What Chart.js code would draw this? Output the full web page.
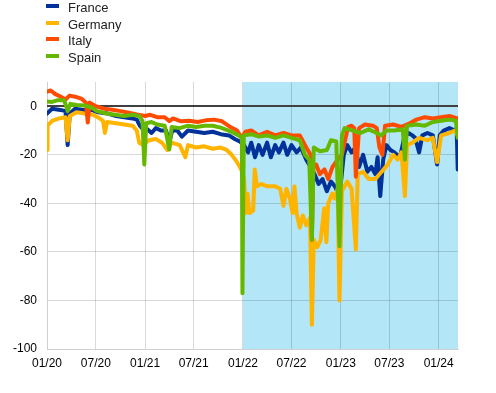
<!DOCTYPE html>
<html>
<head>
<meta charset="utf-8">
<script src="https://cdn.jsdelivr.net/npm/chart.js@4/dist/chart.umd.min.js"></script>
<style>
  html, body { margin: 0; padding: 0; background: #fff; }
  #wrap { position: relative; width: 496px; height: 393px; }
  #legend { position: absolute; left: 46px; top: 0; font: 13px "Liberation Sans", Arial, sans-serif; color: #222; }
  .item { position: relative; height: 16.7px; }
  .mark { position: absolute; left: 0; top: 4px; width: 13px; height: 4px; }
  .label { position: absolute; left: 22px; top: -1px; line-height: 17px; white-space: nowrap; }
</style>
</head>
<body>
<div id="wrap">
  <canvas id="chart" width="496" height="393"></canvas>
  <div id="legend"></div>
</div>
<script>
const seriesNames = ['France', 'Germany', 'Italy', 'Spain']

const franceDates = ['2020-01-01','2020-01-20','2020-02-20','2020-03-10','2020-03-18','2020-03-26','2020-04-15','2020-05-15','2020-06-15','2020-07-10','2020-08-15','2020-09-15','2020-10-15','2020-11-15','2020-12-01','2020-12-12','2020-12-28','2021-01-05','2021-01-25','2021-02-10','2021-03-01','2021-03-20','2021-04-01','2021-04-12','2021-05-01','2021-05-18','2021-06-10','2021-07-10','2021-08-10','2021-09-10','2021-10-10','2021-11-10','2021-12-01','2021-12-20','2022-01-05','2022-01-20','2022-02-01','2022-02-15','2022-03-01','2022-03-15','2022-04-01','2022-04-15','2022-05-01','2022-05-15','2022-06-01','2022-06-15','2022-07-01','2022-07-20','2022-08-05','2022-08-25','2022-09-10','2022-09-25','2022-10-10','2022-10-25','2022-11-10','2022-11-25','2022-12-10','2022-12-27','2023-01-12','2023-01-25','2023-02-10','2023-02-25','2023-03-10','2023-03-25','2023-04-10','2023-04-25','2023-05-10','2023-05-18','2023-05-28','2023-06-08','2023-06-20','2023-07-05','2023-07-20','2023-08-10','2023-08-25','2023-09-10','2023-09-25','2023-10-05','2023-10-20','2023-11-01','2023-11-20','2023-12-10','2023-12-26','2024-01-05','2024-01-20','2024-02-10','2024-03-01','2024-03-08','2024-03-12']
const franceValues = [-3,-1,-1.5,-2,-16,-3,-1,-1.5,-1.5,-2.5,-3,-4,-4.5,-5,-5.5,-8,-10,-9,-11,-9,-10,-10,-15,-10,-10,-12.5,-10,-10.5,-11,-10.5,-11.5,-12,-13.5,-14.5,-16,-19,-15,-21,-16,-20,-15,-21,-16,-19,-15,-20,-16,-19,-17,-22,-25,-28,-32,-30,-35,-31,-33,-37,-20,-16,-19,-17,-25,-20,-27,-25,-28,-21,-37,-22,-16,-18,-19,-21,-13,-11,-12,-13,-19,-12,-11,-12,-24,-12,-10,-9,-10,-9,-26]

const germanyDates = ['2020-01-01','2020-01-03','2020-01-20','2020-02-15','2020-03-10','2020-03-18','2020-03-26','2020-04-20','2020-05-20','2020-06-20','2020-07-10','2020-07-28','2020-08-04','2020-08-12','2020-09-15','2020-10-15','2020-11-15','2020-12-01','2020-12-10','2020-12-25','2021-01-15','2021-02-10','2021-03-05','2021-03-25','2021-04-10','2021-05-10','2021-05-31','2021-06-10','2021-07-10','2021-08-10','2021-09-10','2021-10-10','2021-11-01','2021-11-20','2021-12-10','2021-12-25','2022-01-05','2022-01-12','2022-01-18','2022-01-25','2022-02-08','2022-02-14','2022-02-22','2022-03-10','2022-04-01','2022-05-01','2022-05-20','2022-06-01','2022-06-12','2022-06-25','2022-07-05','2022-07-12','2022-07-20','2022-08-01','2022-08-12','2022-08-25','2022-09-08','2022-09-15','2022-09-22','2022-10-05','2022-10-18','2022-10-31','2022-11-08','2022-11-15','2022-11-30','2022-12-10','2022-12-20','2022-12-27','2023-01-05','2023-01-25','2023-02-10','2023-02-26','2023-03-05','2023-03-25','2023-04-15','2023-05-10','2023-05-25','2023-06-10','2023-06-25','2023-07-15','2023-08-01','2023-08-15','2023-08-28','2023-09-05','2023-09-25','2023-10-20','2023-11-20','2023-12-10','2023-12-26','2024-01-10','2024-02-10','2024-03-01','2024-03-12']
const germanyValues = [-18,-8,-6,-5,-4.5,-14,-4,-2.5,-3,-3.5,-4.6,-6,-11,-6.5,-7,-7.5,-8,-10,-15,-16,-14,-13.5,-15,-18,-15,-16,-21,-16,-17,-16.5,-17.5,-17,-18,-20,-23,-26,-30,-44,-36,-44,-43,-26,-33,-32,-33,-33,-34,-41,-34,-38,-44,-33,-44,-50,-45,-49,-46,-90,-55,-58,-55,-42,-56,-40,-36,-38,-34,-80,-35,-31,-34,-59,-28,-27,-30,-30,-28,-26,-24,-20,-22,-19,-37,-16,-15,-13,-14,-13,-23,-12,-11,-10,-12]

const italyDates = ['2020-01-01','2020-01-15','2020-02-01','2020-02-20','2020-03-10','2020-03-25','2020-04-20','2020-05-10','2020-05-25','2020-06-01','2020-06-08','2020-07-01','2020-08-01','2020-09-01','2020-10-01','2020-11-01','2020-12-01','2021-01-01','2021-01-20','2021-02-15','2021-03-15','2021-04-01','2021-04-15','2021-05-15','2021-06-15','2021-07-15','2021-08-15','2021-09-15','2021-10-15','2021-11-10','2021-12-10','2021-12-27','2022-01-10','2022-02-01','2022-03-01','2022-04-01','2022-05-01','2022-06-01','2022-07-01','2022-08-01','2022-08-25','2022-09-10','2022-09-15','2022-09-20','2022-10-01','2022-10-15','2022-11-01','2022-11-15','2022-12-01','2022-12-20','2023-01-05','2023-01-15','2023-01-28','2023-02-10','2023-02-20','2023-02-26','2023-03-10','2023-04-01','2023-05-01','2023-05-15','2023-05-25','2023-06-05','2023-06-15','2023-07-15','2023-08-15','2023-09-15','2023-10-10','2023-11-10','2023-12-10','2024-01-10','2024-02-10','2024-03-12']
const italyValues = [6,6.5,5,4,2.8,4.4,3.8,3,1.5,-6.7,1.5,0,-1,-1.4,-2,-2.7,-3.4,-4,-3.5,-4.5,-4.5,-6.1,-5,-6.2,-6,-6.5,-5.8,-5.5,-6.2,-8.2,-10,-13,-10.5,-10,-12,-10.5,-12,-11,-12,-12,-17,-20,-55,-25,-24,-28,-26,-30,-25,-22,-20,-15,-8.5,-8,-9,-29,-9,-7.5,-8,-9,-17,-20,-8,-7.5,-8.5,-7,-5.5,-4.5,-5,-4.5,-4,-5]

const spainDates = ['2020-01-01','2020-01-20','2020-02-10','2020-03-05','2020-03-18','2020-03-28','2020-04-20','2020-05-20','2020-06-15','2020-07-05','2020-08-10','2020-09-10','2020-10-15','2020-11-15','2020-12-10','2020-12-22','2020-12-29','2021-01-05','2021-01-25','2021-02-15','2021-03-15','2021-04-01','2021-04-10','2021-05-10','2021-06-10','2021-07-10','2021-08-10','2021-09-10','2021-10-10','2021-11-15','2021-12-15','2021-12-28','2021-12-30','2022-01-04','2022-02-01','2022-03-01','2022-04-01','2022-05-01','2022-06-01','2022-07-01','2022-08-01','2022-08-20','2022-09-05','2022-09-15','2022-09-22','2022-10-15','2022-11-10','2022-11-25','2022-12-15','2022-12-27','2023-01-05','2023-01-15','2023-02-15','2023-03-15','2023-04-15','2023-05-15','2023-06-01','2023-06-20','2023-07-20','2023-08-20','2023-08-28','2023-09-05','2023-10-10','2023-11-10','2023-12-10','2024-01-10','2024-02-10','2024-03-05','2024-03-12']
const spainValues = [2,1.8,2.5,2.5,-2,1,0.5,0.3,-0.5,-2,-3,-3.5,-4,-3.5,-4,-6,-24,-7,-6.5,-7.5,-8,-17.8,-8.5,-9,-8,-8.5,-8,-8,-8.8,-10.3,-12,-13,-77,-12,-11.5,-12.5,-12,-13,-12,-13,-14,-20,-22,-55,-17,-18.5,-18,-14,-14.5,-57.6,-12,-9,-10,-11,-9.5,-11,-12,-10,-10,-9.5,-22,-8,-7.5,-8,-6.5,-6,-5.5,-6,-13]

const xTickDates = ['2020-01-01','2020-07-01','2021-01-01','2021-07-01','2022-01-01','2022-07-01','2023-01-01','2023-07-01','2024-01-01']
const xTickLabels = ['01/20','07/20','01/21','07/21','01/22','07/22','01/23','07/23','01/24']
const yTicks = [0, -20, -40, -60, -80, -100]
const xStart = '2020-01-01'
const xEnd = '2024-03-13'
const shadeStart = '2022-01-01'

const colors = ['#003299', '#ffb400', '#ff4b00', '#65b800']

const t = s => Date.parse(s + 'T00:00:00Z')
const toPoints = (dates, values) => dates.map((d, i) => ({ x: t(d), y: values[i] }))

const allDates = [franceDates, germanyDates, italyDates, spainDates]
const allValues = [franceValues, germanyValues, italyValues, spainValues]

// legend (html)
const legendEl = document.getElementById('legend')
seriesNames.forEach((name, i) => {
    const item = document.createElement('div')
    item.className = 'item'
    item.innerHTML = '<div class="mark" style="background:' + colors[i] + '"></div><div class="label">' + name + '</div>'
    legendEl.appendChild(item)
})

const backdrop = {
    id: 'backdrop',
    beforeDraw(chart) {
        const { ctx, chartArea, scales } = chart
        const x0 = scales.x.getPixelForValue(t(shadeStart))
        ctx.save()
        ctx.fillStyle = '#b3e6f7'
        ctx.fillRect(x0, chartArea.top, chartArea.right - x0, chartArea.bottom - chartArea.top)
        ctx.restore()
    },
    beforeDatasetsDraw(chart) {
        const { ctx, chartArea, scales } = chart
        const y0 = Math.round(scales.y.getPixelForValue(0))
        ctx.save()
        ctx.strokeStyle = '#404040'
        ctx.lineWidth = 2
        ctx.beginPath()
        ctx.moveTo(chartArea.left, y0)
        ctx.lineTo(chartArea.right, y0)
        ctx.stroke()
        ctx.restore()
    }
}

const font = { family: '"Liberation Sans", Arial, sans-serif', size: 12 }

new Chart(document.getElementById('chart'), {
    type: 'line',
    data: {
        datasets: seriesNames.map((name, i) => ({
            label: name,
            data: toPoints(allDates[i], allValues[i]),
            borderColor: colors[i],
            backgroundColor: colors[i],
            borderWidth: 4,
            pointRadius: 0,
            tension: 0,
            borderJoinStyle: 'round',
            borderCapStyle: 'round',
            order: seriesNames.length - i
        }))
    },
    options: {
        responsive: false,
        animation: false,
        layout: { padding: { top: 82, right: 38, bottom: 0, left: 0 } },
        plugins: { legend: { display: false }, tooltip: { enabled: false } },
        scales: {
            x: {
                type: 'linear',
                min: t(xStart),
                max: t(xEnd),
                afterBuildTicks: scale => { scale.ticks = xTickDates.map(d => ({ value: t(d) })) },
                afterFit: scale => { scale.height = 44 },
                ticks: {
                    autoSkip: false, maxRotation: 0, padding: 7, color: '#000', font,
                    callback: (v, i) => xTickLabels[i]
                },
                grid: { color: 'rgba(0,0,0,0.15)', drawTicks: false },
                border: { color: '#d0d0d0' }
            },
            y: {
                min: -100,
                max: 10,
                afterBuildTicks: scale => { scale.ticks = yTicks.map(v => ({ value: v })) },
                afterFit: scale => { scale.width = 47 },
                ticks: { padding: 10, color: '#000', font },
                grid: { color: 'rgba(0,0,0,0.15)', drawTicks: false },
                border: { color: '#d0d0d0' }
            }
        }
    },
    plugins: [backdrop]
})
</script>
</body>
</html>
